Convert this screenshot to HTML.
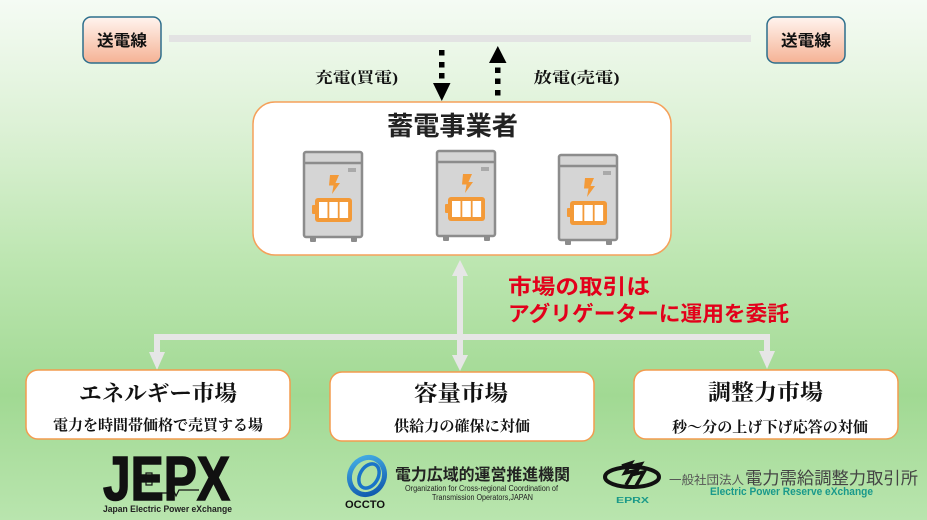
<!DOCTYPE html>
<html lang="ja">
<head>
<meta charset="utf-8">
<style>
  html,body{margin:0;padding:0;}
  body{width:927px;height:520px;overflow:hidden;}
  svg{display:block;}
  .jp{font-family:"Liberation Sans","Noto Sans CJK JP",sans-serif;}
  .jps{font-family:"Liberation Serif","Noto Serif CJK SC",serif;}
  .en{font-family:"Liberation Sans",sans-serif;}
</style>
</head>
<body>
<svg width="927" height="520" viewBox="0 0 927 520" xmlns="http://www.w3.org/2000/svg">
  <defs>
    <linearGradient id="bg" x1="0" y1="0" x2="0" y2="1">
      <stop offset="0" stop-color="#f5fbf4"/>
      <stop offset="0.25" stop-color="#dcf1d5"/>
      <stop offset="0.5" stop-color="#bde6b1"/>
      <stop offset="0.76" stop-color="#a1d993"/>
      <stop offset="1" stop-color="#b9e5ae"/>
    </linearGradient>
    <linearGradient id="tl" x1="0" y1="0" x2="0" y2="1">
      <stop offset="0" stop-color="#fff4ef"/>
      <stop offset="1" stop-color="#f5b294"/>
    </linearGradient>
    <linearGradient id="occ" x1="0" y1="0" x2="1" y2="1">
      <stop offset="0" stop-color="#48b4e8"/>
      <stop offset="1" stop-color="#0a4fa8"/>
    </linearGradient>
    <g id="cab">
      <rect x="0" y="0" width="58" height="85" rx="2" fill="#d5d5d5" stroke="#8c8c8c" stroke-width="2.5"/>
      <line x1="0" y1="11" x2="58" y2="11" stroke="#8c8c8c" stroke-width="2.5"/>
      <rect x="6" y="85" width="6" height="5" rx="1" fill="#8c8c8c"/>
      <rect x="47" y="85" width="6" height="5" rx="1" fill="#8c8c8c"/>
      <rect x="44" y="16" width="8" height="4" fill="#a9a9a9"/>
      <polygon points="26,23 35,23 31.5,31 36,31 28,42 29.5,33.5 25,33.5" fill="#f39a38"/>
      <rect x="8" y="53" width="5" height="9" rx="1" fill="#f39a38"/>
      <rect x="11" y="46" width="37" height="24" rx="3" fill="#f39a38"/>
      <rect x="15" y="50" width="8.5" height="16" fill="#ffffff"/>
      <rect x="25.3" y="50" width="8.5" height="16" fill="#ffffff"/>
      <rect x="35.6" y="50" width="8.5" height="16" fill="#ffffff"/>
    </g>
  </defs>

  <!-- background -->
  <rect x="0" y="0" width="927" height="520" fill="url(#bg)"/>

  <!-- transmission line -->
  <rect x="169" y="35" width="582" height="7" fill="#e3e3e3"/>

  <!-- 送電線 boxes -->
  <rect x="83" y="17" width="78" height="46" rx="8" fill="url(#tl)" stroke="#2d6e8c" stroke-width="1.5"/>
  <text class="jp" x="122" y="46" font-size="16" font-weight="bold" text-anchor="middle" fill="#111" textLength="50" lengthAdjust="spacingAndGlyphs">送電線</text>
  <rect x="767" y="17" width="78" height="46" rx="8" fill="url(#tl)" stroke="#2d6e8c" stroke-width="1.5"/>
  <text class="jp" x="806" y="46" font-size="16" font-weight="bold" text-anchor="middle" fill="#111" textLength="50" lengthAdjust="spacingAndGlyphs">送電線</text>

  <!-- dashed arrows -->
  <rect x="439" y="50" width="5.5" height="5.5" fill="#000"/>
  <rect x="439" y="62" width="5.5" height="5.5" fill="#000"/>
  <rect x="439" y="73" width="5.5" height="5.5" fill="#000"/>
  <polygon points="433,83 450.5,83 441.8,101" fill="#000"/>

  <polygon points="489,63 506.5,63 497.8,46" fill="#000"/>
  <rect x="495" y="67.5" width="5.5" height="5.5" fill="#000"/>
  <rect x="495" y="78.5" width="5.5" height="5.5" fill="#000"/>
  <rect x="495" y="90" width="5.5" height="5.5" fill="#000"/>

  <text class="jps" x="356.5" y="82.5" font-size="15" font-weight="bold" text-anchor="middle" fill="#111" textLength="83" lengthAdjust="spacingAndGlyphs">充電(買電)</text>
  <text class="jps" x="576.5" y="82.5" font-size="15" font-weight="bold" text-anchor="middle" fill="#111" textLength="86" lengthAdjust="spacingAndGlyphs">放電(売電)</text>

  <!-- main box -->
  <rect x="253" y="102" width="418" height="153" rx="22" fill="#ffffff" stroke="#f5a05a" stroke-width="1.5"/>
  <text class="jp" x="452.5" y="135" font-size="26" font-weight="bold" text-anchor="middle" fill="#222" textLength="131" lengthAdjust="spacingAndGlyphs">蓄電事業者</text>

  <use href="#cab" x="304" y="152"/>
  <use href="#cab" x="437" y="151"/>
  <use href="#cab" x="559" y="155"/>

  <!-- connectors -->
  <g fill="#e6e6e6">
    <rect x="457" y="272" width="6" height="86"/>
    <polygon points="452,276 468,276 460,260"/>
    <polygon points="452,355 468,355 460,371"/>
    <rect x="154" y="334" width="616" height="6"/>
    <rect x="154" y="334" width="6" height="20"/>
    <polygon points="149,352 165,352 157,370"/>
    <rect x="764" y="334" width="6" height="20"/>
    <polygon points="759,351 775,351 767,369"/>
  </g>

  <!-- red note -->
  <text class="jp" x="508" y="294" font-size="21" font-weight="bold" fill="#e3001b" textLength="142" lengthAdjust="spacingAndGlyphs">市場の取引は</text>
  <text class="jp" x="508" y="321" font-size="21" font-weight="bold" fill="#e3001b" textLength="281" lengthAdjust="spacingAndGlyphs">アグリゲーターに運用を委託</text>

  <!-- market boxes -->
  <rect x="26" y="370" width="264" height="69" rx="12" fill="#ffffff" stroke="#f39b4e" stroke-width="1.5"/>
  <text class="jps" x="158" y="401" font-size="22" font-weight="bold" text-anchor="middle" fill="#111" textLength="158" lengthAdjust="spacingAndGlyphs">エネルギー市場</text>
  <text class="jps" x="158" y="430" font-size="15" font-weight="bold" text-anchor="middle" fill="#111" textLength="210" lengthAdjust="spacingAndGlyphs">電力を時間帯価格で売買する場</text>

  <rect x="330" y="372" width="264" height="69" rx="12" fill="#ffffff" stroke="#f39b4e" stroke-width="1.5"/>
  <text class="jps" x="461" y="401" font-size="22" font-weight="bold" text-anchor="middle" fill="#111" textLength="94" lengthAdjust="spacingAndGlyphs">容量市場</text>
  <text class="jps" x="462" y="431" font-size="15" font-weight="bold" text-anchor="middle" fill="#111" textLength="136" lengthAdjust="spacingAndGlyphs">供給力の確保に対価</text>

  <rect x="634" y="370" width="264" height="69" rx="12" fill="#ffffff" stroke="#f39b4e" stroke-width="1.5"/>
  <text class="jps" x="765.5" y="400" font-size="22" font-weight="bold" text-anchor="middle" fill="#111" textLength="115" lengthAdjust="spacingAndGlyphs">調整力市場</text>
  <text class="jps" x="770" y="432" font-size="15" font-weight="bold" text-anchor="middle" fill="#111" textLength="196" lengthAdjust="spacingAndGlyphs">秒～分の上げ下げ応答の対価</text>

  <!-- JEPX logo -->
  <text class="en" x="103" y="500" font-size="62" font-weight="bold" fill="#111" stroke="#111" stroke-width="1.5" textLength="127" lengthAdjust="spacingAndGlyphs">JEPX</text>
  <path d="M136 478 h10 v-5 h6 v12 h-6 v-5 M140 478 v15 h30 l3 -4 l3 7 l3 -6 h20" fill="none" stroke="#111" stroke-width="1.2"/>
  <text class="en" x="103" y="512" font-size="9" font-weight="bold" fill="#222" textLength="129" lengthAdjust="spacingAndGlyphs">Japan Electric Power eXchange</text>

  <!-- OCCTO logo -->
  <ellipse cx="367" cy="476" rx="17" ry="19" fill="none" stroke="url(#occ)" stroke-width="5" transform="rotate(30 367 476)"/>
  <ellipse cx="369" cy="476" rx="9" ry="13" fill="none" stroke="#1a74c8" stroke-width="3.5" transform="rotate(30 369 476)"/>
  <text class="en" x="345" y="508" font-size="11" font-weight="bold" fill="#111" textLength="40" lengthAdjust="spacingAndGlyphs">OCCTO</text>
  <text class="jp" x="395" y="480" font-size="16" font-weight="bold" fill="#222" textLength="175" lengthAdjust="spacingAndGlyphs">電力広域的運営推進機関</text>
  <text class="en" x="405" y="491" font-size="8" fill="#222" textLength="153" lengthAdjust="spacingAndGlyphs">Organization for Cross-regional Coordination of</text>
  <text class="en" x="432" y="500" font-size="8" fill="#222" textLength="101" lengthAdjust="spacingAndGlyphs">Transmission Operators,JAPAN</text>

  <!-- EPRX logo -->
  <ellipse cx="632" cy="477" rx="27" ry="10" fill="none" stroke="#111" stroke-width="4"/>
  <path d="M622 466 l9 -3 l-6 10 l9 -2 l-8 14 M632 466 l9 -2 l-6 10 l9 -2 l-8 14" fill="none" stroke="#111" stroke-width="3.5"/>
  <text class="en" x="616" y="503" font-size="8" font-weight="bold" fill="#1a9988" textLength="33" lengthAdjust="spacingAndGlyphs">EPRX</text>
  <text class="jp" x="669" y="484" font-size="12" fill="#555" textLength="75" lengthAdjust="spacingAndGlyphs">一般社団法人</text>
  <text class="jp" x="745" y="484" font-size="17" fill="#444" textLength="173" lengthAdjust="spacingAndGlyphs">電力需給調整力取引所</text>
  <text class="en" x="710" y="495" font-size="11" font-weight="bold" fill="#19998b" textLength="163" lengthAdjust="spacingAndGlyphs">Electric Power Reserve eXchange</text>
</svg>
</body>
</html>
